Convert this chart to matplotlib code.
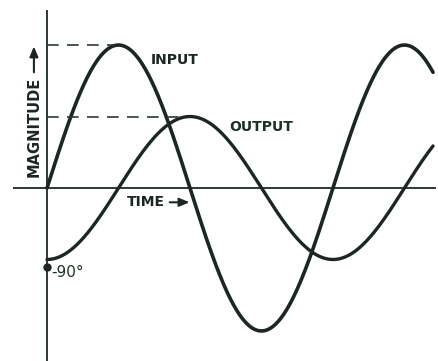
import numpy as np
import matplotlib
matplotlib.use("Agg")
import matplotlib.pyplot as plt

# Chart content (phase in degrees, magnitude relative to input peak)
input_amplitude = 1.0
output_amplitude = 0.5
output_phase_lag_deg = 90.0
curve_end_deg = 486.0
labels = ["INPUT", "OUTPUT", "TIME", "MAGNITUDE", "-90°"]

W, H = 439, 361
fig = plt.figure(figsize=(W / 100, H / 100), dpi=100)
ax = fig.add_axes([0, 0, 1, 1])
ax.set_xlim(-59.2, 493.5)
ax.set_ylim(-1.21, 1.315)
ax.axis("off")

ink = "#1b2720"
axis_ink = "#2b3a30"
text_ink = "#1d3325"

deg = np.linspace(0, curve_end_deg, 800)
inp = input_amplitude * np.sin(np.radians(deg))
out = output_amplitude * np.sin(np.radians(deg - output_phase_lag_deg))

# axes
ax.plot([-43, 490], [0, 0], color=axis_ink, lw=1.4, solid_capstyle="butt")
ax.plot([0, 0], [-1.25, 1.245], color=axis_ink, lw=1.4, solid_capstyle="butt")

# curves
ax.plot(deg, inp, color=ink, lw=2.6, solid_capstyle="round")
ax.plot(deg, out, color=ink, lw=2.4, solid_capstyle="round")

# dashed guides to peaks
ax.plot([0, 84], [input_amplitude, input_amplitude], color=axis_ink, lw=1.2,
        dashes=(7, 5))
ax.plot([0, 170], [output_amplitude, output_amplitude], color=axis_ink, lw=1.2,
        dashes=(7, 5))

# -90 degree marker
ax.plot([0], [-0.55], marker="o", ms=5, color=ink)

fs = 10
arrow = dict(arrowstyle="-|>,head_length=0.6,head_width=0.25", color=ink, lw=1.5)
ax.text(130, 0.895, labels[0], fontsize=fs, fontweight="bold", color=ink,
        va="center", ha="left")
ax.text(230, 0.43, labels[1], fontsize=fs, fontweight="bold", color=text_ink,
        va="center", ha="left")
ax.text(101, -0.1, labels[2], fontsize=fs, fontweight="bold", color=ink,
        va="center", ha="left")
ax.annotate("", xy=(183, -0.1), xytext=(151, -0.1), arrowprops=arrow)
ax.text(-16.5, 0.075, labels[3], fontsize=fs + 0.5, fontweight="bold", color=ink,
        va="bottom", ha="center", rotation=90)
ax.annotate("", xy=(-16.5, 1.01), xytext=(-16.5, 0.79), arrowprops=arrow)
ax.text(5, -0.59, labels[4], fontsize=fs + 1, color=text_ink,
        va="center", ha="left")

fig.savefig("out.png", dpi=100, facecolor="white")
